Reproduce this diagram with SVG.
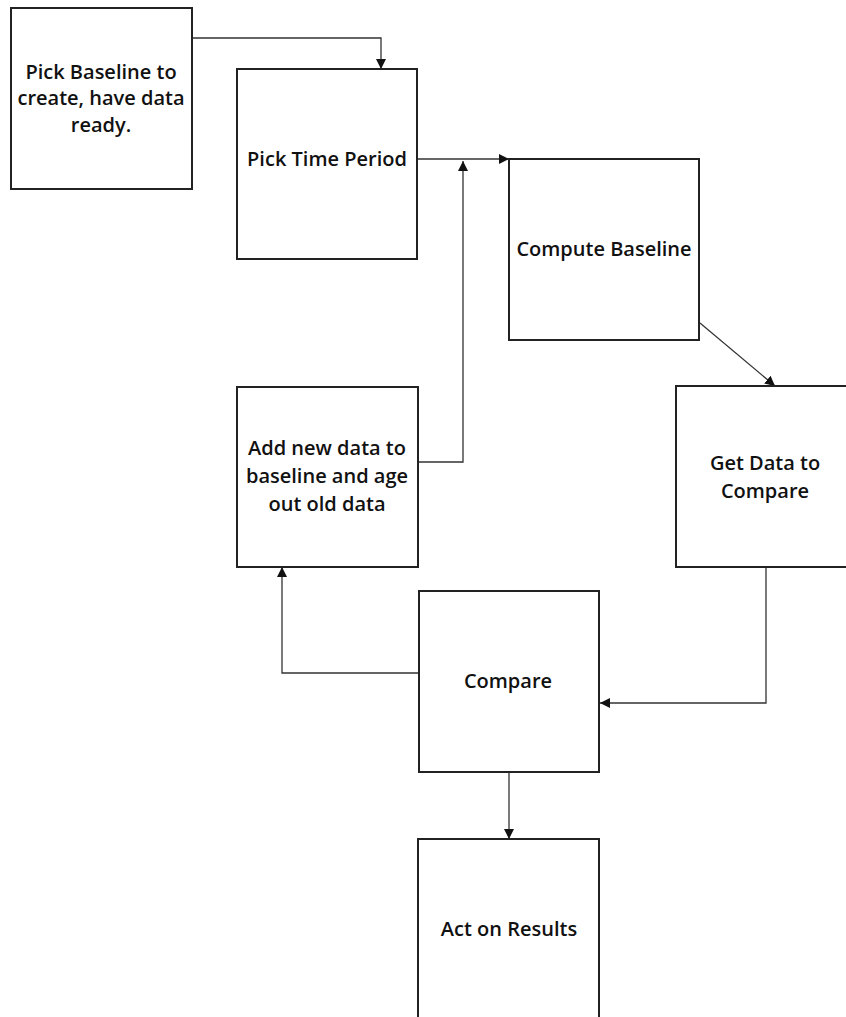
<svg xmlns="http://www.w3.org/2000/svg" width="846" height="1017" viewBox="0 0 846 1017">
<style>
.box{fill:#fff;stroke:#222;stroke-width:2}
.lbl{font-family:"Open Sans","Noto Sans",sans-serif;font-size:20px;font-weight:600;fill:#111;text-anchor:middle}
.con{fill:none;stroke:#333;stroke-width:1.3}
</style>
<defs>
<marker id="ah" viewBox="0 0 10 10" refX="10" refY="5" markerWidth="10" markerHeight="10" markerUnits="userSpaceOnUse" orient="auto">
<path d="M0,0 L10,5 L0,10 z" fill="#111"/>
</marker>
</defs>
<rect width="846" height="1017" fill="#fff"/>
<g id="connectors">
<path class="con" d="M192,38 H381 V69" marker-end="url(#ah)"/>
<path class="con" d="M417,159 H509" marker-end="url(#ah)"/>
<path class="con" d="M418,462 H463 V161" marker-end="url(#ah)"/>
<path class="con" d="M700,323 L775,386" marker-end="url(#ah)"/>
<path class="con" d="M766,567 V703 H600" marker-end="url(#ah)"/>
<path class="con" d="M419,673 H282 V567" marker-end="url(#ah)"/>
<path class="con" d="M509,772 V839" marker-end="url(#ah)"/>
</g>
<g id="n1"><rect class="box" x="11" y="8" width="181" height="181"/>
<text class="lbl" x="101" y="79">Pick Baseline to</text>
<text class="lbl" x="101" y="105">create, have data</text>
<text class="lbl" x="101" y="132">ready.</text></g>
<g id="n2"><rect class="box" x="237" y="69" width="180" height="190"/>
<text class="lbl" x="327" y="166">Pick Time Period</text></g>
<g id="n3"><rect class="box" x="509" y="159" width="190" height="181"/>
<text class="lbl" x="604" y="256">Compute Baseline</text></g>
<g id="n4"><rect class="box" x="237" y="387" width="181" height="180"/>
<text class="lbl" x="327" y="455">Add new data to</text>
<text class="lbl" x="327" y="483">baseline and age</text>
<text class="lbl" x="327" y="511">out old data</text></g>
<g id="n5"><rect class="box" x="676" y="386" width="172" height="181"/>
<text class="lbl" x="765" y="470">Get Data to</text>
<text class="lbl" x="765" y="498">Compare</text></g>
<g id="n6"><rect class="box" x="419" y="591" width="180" height="181"/>
<text class="lbl" x="508" y="688">Compare</text></g>
<g id="n7"><rect class="box" x="418" y="839" width="181" height="190"/>
<text class="lbl" x="509" y="936">Act on Results</text></g>
</svg>
